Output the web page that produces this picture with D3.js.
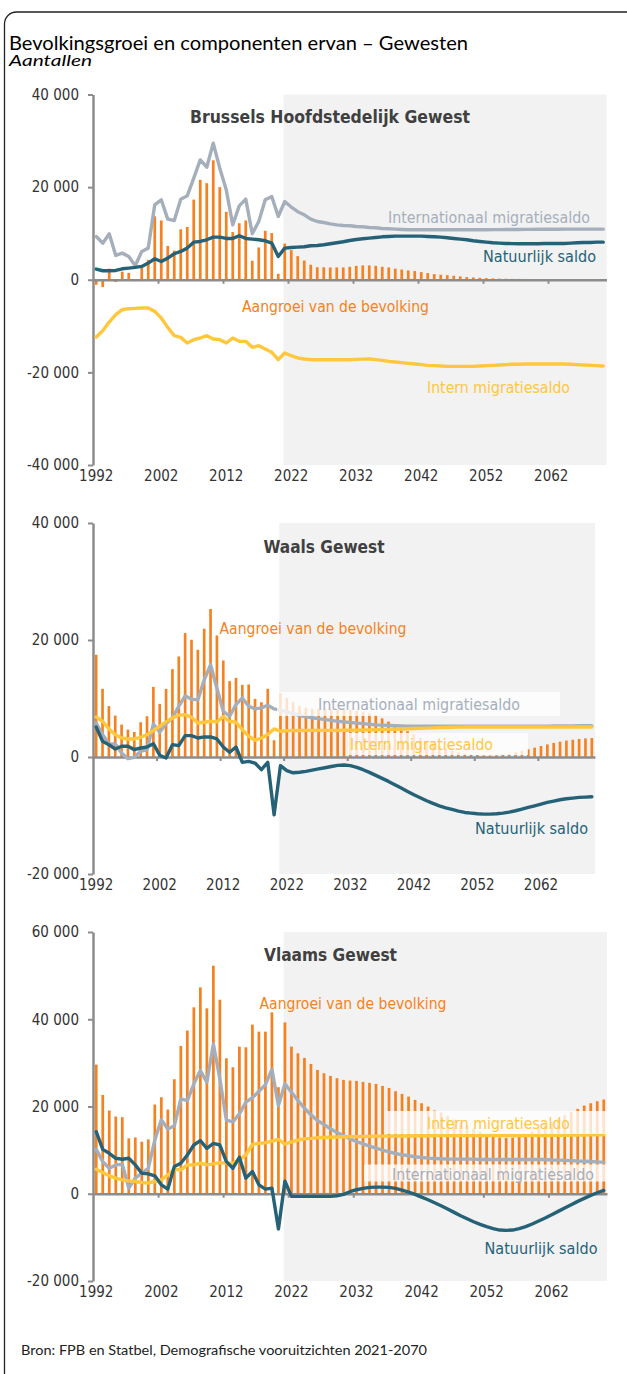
<!DOCTYPE html>
<html><head><meta charset="utf-8">
<script src="https://cdn.jsdelivr.net/npm/d3@7/dist/d3.min.js"></script>
<style>
html,body{margin:0;padding:0;background:#fff;}
svg{display:block;}
</style></head><body>
<svg id="chart" width="627" height="1374"></svg>
<script>
// ---------- DATA ----------
const years = d3.range(1992, 2071);
const xTickYears = [1992, 2002, 2012, 2022, 2032, 2042, 2052, 2062];
const bruYTicks = [-40000, -20000, 0, 20000, 40000];
const walYTicks = [-20000, 0, 20000, 40000];
const vlaYTicks = [-20000, 0, 20000, 40000, 60000];
const projectionStart = 2021;

const seriesNames = ["Aangroei van de bevolking", "Natuurlijk saldo", "Internationaal migratiesaldo", "Intern migratiesaldo"];
const panelTitles = ["Brussels Hoofdstedelijk Gewest", "Waals Gewest", "Vlaams Gewest"];

// Brussels
const bruGrowth = [-1080,-1580,2400,-500,1750,1500,-300,2600,4300,13700,
 12800,7300,6300,10900,11400,17300,21570,20850,25800,20000,
 14670,10300,12200,12800,4100,6970,10570,10070,1300,7800,
 6400,5100,4150,3240,2700,2700,2660,2660,2660,2800,
 3000,3090,3090,3020,2800,2660,2400,2200,2010,1870,
 1650,1440,1220,1080,1000,860,720,580,500,430,
 360,290,250,220,200,180,170,160,150,150,
 150,150,140,140,130,120,110,100,100];
const bruNatural = [2300,1940,1940,2010,2370,2520,2660,2880,3600,4530,
 3950,4670,5610,6110,6830,8120,8270,8630,9200,9200,
 8920,8920,9490,8920,8770,8630,8410,7910,5030,6830,
 6970,7050,7120,7330,7400,7550,7770,7980,8200,8480,
 8700,8840,8990,9130,9270,9350,9420,9420,9420,9420,
 9420,9350,9270,9200,9060,8920,8770,8630,8410,8270,
 8120,7980,7900,7840,7800,7770,7770,7770,7770,7840,
 7840,7840,7840,7910,7980,8050,8050,8120,8120];
const bruIntl = [9350,7900,9920,5250,5750,5030,3020,6110,6830,16180,
 17260,13090,12800,17400,18120,21930,25880,24300,29480,24090,
 19410,11860,15960,17400,9920,12580,17260,17980,13660,16900,
 15700,14700,14020,13090,12580,12370,12080,11860,11720,11650,
 11500,11430,11290,11220,11070,11000,10930,10860,10790,10790,
 10790,10790,10790,10790,10790,10790,10790,10790,10790,10800,
 10810,10820,10830,10840,10850,10860,10870,10880,10890,10900,
 10910,10920,10930,10930,10930,10930,10930,10930,10930];
const bruIntern = [-12370,-11000,-9130,-7550,-6470,-6250,-6180,-6110,-6110,-6830,
 -8270,-10280,-12080,-12440,-13660,-12940,-12580,-12080,-12800,-12940,
 -13660,-12580,-13300,-13300,-14600,-14240,-14950,-15670,-17260,-15820,
 -16400,-16900,-17100,-17260,-17260,-17260,-17260,-17260,-17260,-17260,
 -17200,-17150,-17100,-17260,-17400,-17620,-17760,-17900,-18050,-18190,
 -18330,-18480,-18550,-18620,-18700,-18700,-18700,-18700,-18700,-18620,
 -18550,-18480,-18400,-18330,-18260,-18260,-18190,-18190,-18190,-18190,
 -18190,-18190,-18190,-18260,-18330,-18400,-18480,-18550,-18620];

// Wallonia
const walGrowth = [17470,11650,8700,7080,5540,4680,4280,5940,6970,11990,
 9080,11650,15020,17190,21180,20040,18330,21930,25300,20780,
 16500,12960,13530,12330,12390,9940,9360,11650,2860,10960,
 10100,9360,8700,8400,8250,8200,8200,8200,8200,8150,
 8050,7900,7700,7450,7100,6600,6050,5500,4950,4400,
 3850,3300,2800,2300,1850,1450,1100,800,600,450,
 350,280,260,300,420,600,820,1060,1320,1600,
 1880,2150,2400,2620,2800,2950,3080,3180,3250];
const walNatural = [5140,2680,2110,1370,1830,1830,1260,1540,1710,2280,
 290,-170,2110,1940,3650,3650,3250,3430,3430,3080,
 1710,800,1710,-910,-740,-1030,-2170,-910,-9880,-1480,
 -2340,-2700,-2600,-2450,-2230,-2030,-1830,-1620,-1430,-1370,
 -1480,-1770,-2170,-2630,-3140,-3650,-4170,-4740,-5310,-5880,
 -6450,-6970,-7480,-7930,-8340,-8680,-8960,-9250,-9480,-9590,
 -9710,-9760,-9760,-9710,-9590,-9420,-9190,-8910,-8620,-8340,
 -8050,-7770,-7540,-7310,-7140,-7020,-6910,-6850,-6800];
const walIntl = [5820,3830,2280,2230,690,-290,-60,970,1260,5650,
 4230,5710,6680,8680,10450,9880,9760,13190,15760,11760,
 7820,6970,8960,10100,8680,8220,8390,8850,8220,8000,
 7700,7400,7100,6900,6700,6550,6400,6250,6100,6000,
 5900,5800,5700,5600,5500,5450,5400,5350,5300,5250,
 5250,5250,5250,5250,5250,5250,5250,5250,5250,5250,
 5250,5250,5250,5250,5250,5250,5250,5250,5250,5260,
 5270,5280,5290,5300,5310,5320,5330,5340,5350];
const walIntern = [6850,6110,4800,3830,3250,3080,3080,3370,3830,4510,
 5250,6050,6680,7140,7250,6800,5820,5940,6110,6000,
 6910,6110,5940,4680,3540,2860,3250,3830,4800,4400,
 4500,4520,4540,4550,4550,4550,4550,4550,4550,4560,
 4580,4600,4620,4640,4660,4690,4720,4750,4780,4820,
 4860,4900,4940,4980,5020,5050,5080,5100,5120,5140,
 5140,5140,5140,5140,5140,5140,5140,5140,5140,5140,
 5140,5140,5140,5140,5140,5140,5140,5140,5140];

// Flanders
const vlaGrowth = [29600,22660,19080,17700,17550,12700,12900,11930,12460,20450,
 22130,19300,26250,33880,37390,42730,47300,42500,52270,44480,
 31050,28990,33720,33570,38760,37160,37160,41580,24420,39290,
 33720,32200,31130,29760,28380,27620,27010,26480,26100,25940,
 25870,25640,25410,25180,24720,24260,23500,22890,22280,21520,
 20750,19990,19080,18610,17780,17020,16250,15570,14880,14190,
 13660,13200,12890,12820,12890,13200,13660,14270,14950,15630,
 16400,17200,18000,18800,19460,20220,20750,21210,21600];
const vlaNatural = [14210,10180,9270,8130,7900,8130,6610,4710,4560,4100,
 2050,1060,6230,6990,8890,11170,12160,10410,11550,11170,
 7370,5850,8360,3570,5090,2050,1060,1290,-8060,2900,
 -610,-610,-610,-610,-610,-610,-610,-460,-150,460,
 920,1220,1450,1530,1530,1450,1220,840,380,-150,
 -760,-1370,-2060,-2750,-3510,-4270,-5040,-5720,-6410,-7020,
 -7550,-8010,-8320,-8390,-8320,-8010,-7550,-6940,-6260,-5570,
 -4810,-4040,-3280,-2520,-1750,-1070,-380,230,760];
const vlaIntl = [10180,7370,5850,6610,6760,1290,3570,4710,5850,12310,
 16940,14820,15580,21750,21360,25200,28230,25560,34340,26320,
 16870,16490,18310,21000,22000,23500,25000,28500,20200,25200,
 23270,21360,19610,18080,16790,15870,14880,14040,13350,12590,
 11980,11450,10910,10450,9990,9610,9230,8930,8700,8470,
 8320,8160,8080,8010,7940,7940,7940,7940,7940,7860,
 7860,7860,7860,7860,7860,7860,7860,7860,7860,7860,
 7750,7700,7650,7600,7500,7450,7400,7300,7250];
const vlaIntern = [5620,4860,4100,3570,3190,2960,2810,2580,2430,2810,
 3190,4330,5620,5470,6610,6610,6990,6610,6840,7140,
 6990,6990,7750,8890,11320,11550,11700,12080,12460,11400,
 11900,12300,12600,12700,12850,12900,12950,13000,13050,13100,
 13100,13150,13150,13200,13200,13200,13250,13250,13250,13300,
 13300,13300,13350,13350,13350,13350,13350,13350,13350,13350,
 13350,13350,13350,13350,13350,13350,13350,13350,13350,13350,
 13400,13400,13400,13450,13450,13450,13500,13500,13500];

// ---------- STYLE ----------
const ORANGE = "#F58220", TEAL = "#256277", GREY = "#A5AFBC", YELLOW = "#FFC73C";
const AXIS = "#8C8C8C", SHADE = "#F2F2F2";
const CH_FONT = "'DejaVu Sans Condensed','DejaVu Sans',sans-serif";
const TI_FONT = "Lato,'Open Sans',sans-serif";

const fmt = d3.formatLocale({decimal: ",", thousands: " ", grouping: [3], currency: ["", ""], minus: "-"}).format(",d");

const panels = [
  {title: panelTitles[0], growth: bruGrowth, nat: bruNatural, intl: bruIntl, intern: bruIntern,
   yDomain: [-40000, 40000], yTicks: bruYTicks, top: 94.5, bottom: 465, left: 93, right: 606.5,
   titlePos: {x: 190, y: 122.5, w: 280},
   labels: [[2, GREY, 388, 223], [1, TEAL, 483, 262], [0, ORANGE, 242, 311.5], [3, YELLOW, 427, 392.5]],
   boxes: []},
  {title: panelTitles[1], growth: walGrowth, nat: walNatural, intl: walIntl, intern: walIntern,
   yDomain: [-20000, 40000], yTicks: walYTicks, top: 523, bottom: 874, left: 93, right: 595,
   titlePos: {x: 263.5, y: 552.7, w: 121},
   labels: [[0, ORANGE, 219.5, 634], [2, GREY, 318, 710], [3, YELLOW, 350, 749.5], [1, TEAL, 475, 834]],
   boxes: [[277, 692, 283, 24], [348, 733, 180, 22]]},
  {title: panelTitles[2], growth: vlaGrowth, nat: vlaNatural, intl: vlaIntl, intern: vlaIntern,
   yDomain: [-20000, 60000], yTicks: vlaYTicks, top: 932, bottom: 1281, left: 93, right: 607,
   titlePos: {x: 264, y: 960.7, w: 133},
   labels: [[0, ORANGE, 259.5, 1008.5], [3, YELLOW, 427, 1128.5], [2, GREY, 392, 1179.5], [1, TEAL, 484.5, 1254]],
   boxes: [[387, 1111, 220, 23], [364, 1164.5, 243, 17]]}
];
const labelWidths = [187, 113, 202, 143];

// ---------- DRAW ----------
const svg = d3.select("#chart");
svg.append("rect").attr("width", 627).attr("height", 1374).attr("fill", "#fff");
svg.append("rect").attr("x", 4.5).attr("y", 12).attr("width", 700).attr("height", 1420)
  .attr("rx", 12).attr("fill", "none").attr("stroke", "#222").attr("stroke-width", 1.3);

svg.append("text").attr("x", 9).attr("y", 49.5).text("Bevolkingsgroei en componenten ervan – Gewesten")
  .attr("font-family", TI_FONT).attr("font-size", 20).attr("fill", "#000")
  .attr("textLength", 459).attr("lengthAdjust", "spacingAndGlyphs");
svg.append("text").attr("x", 9).attr("y", 66).text("Aantallen")
  .attr("font-family", TI_FONT).attr("font-size", 15).attr("font-style", "italic").attr("fill", "#000")
  .attr("textLength", 83).attr("lengthAdjust", "spacingAndGlyphs");
svg.append("text").attr("x", 21).attr("y", 1355).text("Bron: FPB en Statbel, Demografische vooruitzichten 2021-2070")
  .attr("font-family", TI_FONT).attr("font-size", 13.5).attr("fill", "#222")
  .attr("textLength", 406).attr("lengthAdjust", "spacingAndGlyphs");

panels.forEach(p => {
  const g = svg.append("g");
  const x = d3.scaleBand().domain(years).range([p.left, p.right]).padding(0);
  const xb = d3.scaleLinear().domain([years[0], years[years.length - 1] + 1]).range([p.left, p.right]);
  const y = d3.scaleLinear().domain(p.yDomain).range([p.bottom, p.top]);
  const bw = x.bandwidth();

  // projection shading
  const sx = x(projectionStart) + 2;
  g.append("rect").attr("x", sx).attr("y", p.top).attr("width", p.right - sx)
    .attr("height", p.bottom - p.top).attr("fill", SHADE);

  // bars
  g.append("g").selectAll("rect").data(years.map((yr, i) => ({yr, v: p.growth[i]}))).join("rect")
    .attr("x", d => x(d.yr) + bw * 0.29).attr("width", bw * 0.42)
    .attr("y", d => y(Math.max(0, d.v))).attr("height", d => Math.abs(y(d.v) - y(0)))
    .attr("fill", ORANGE);

  // y axis
  const ya = g.append("g").attr("transform", `translate(${p.left},0)`)
    .call(d3.axisLeft(y).tickValues(p.yTicks).tickSize(5).tickSizeOuter(0).tickPadding(9).tickFormat(fmt));
  ya.attr("font-family", CH_FONT).attr("font-size", 15);
  ya.select(".domain").attr("stroke", AXIS).attr("stroke-width", 2.5);
  ya.selectAll(".tick line").attr("stroke", AXIS).attr("stroke-width", 2);
  ya.selectAll(".tick text").attr("fill", "#333");

  // zero line with ticks at decade boundaries
  const za = g.append("g").attr("transform", `translate(0,${y(0)})`)
    .call(d3.axisBottom(xb).tickValues(xTickYears.slice(1)).tickSize(4).tickSizeOuter(0).tickFormat(""));
  za.select(".domain").attr("stroke", AXIS).attr("stroke-width", 2.7);
  za.selectAll(".tick line").attr("stroke", AXIS).attr("stroke-width", 2);

  // x labels at bottom
  const xl = g.append("g").attr("transform", `translate(0,${p.bottom})`)
    .call(d3.axisBottom(x).tickValues(xTickYears).tickSize(0).tickPadding(5));
  xl.select(".domain").remove();
  xl.attr("font-family", CH_FONT).attr("font-size", 15);
  xl.selectAll(".tick text").attr("fill", "#333");

  // lines
  const line = d3.line().x((d, i) => x(years[i]) + bw / 2).y(d => y(d));
  [[p.intl, GREY], [p.intern, YELLOW], [p.nat, TEAL]].forEach(([data, col]) => {
    g.append("path").datum(data).attr("d", line).attr("fill", "none")
      .attr("stroke", col).attr("stroke-width", 3.4).attr("stroke-linejoin", "round").attr("stroke-linecap", "round");
  });

  // label boxes
  p.boxes.forEach(b => {
    g.append("rect").attr("x", b[0]).attr("y", b[1]).attr("width", b[2]).attr("height", b[3])
      .attr("fill", "#fff").attr("fill-opacity", 0.78);
  });

  // panel title
  g.append("text").attr("x", p.titlePos.x).attr("y", p.titlePos.y).text(p.title)
    .attr("font-family", CH_FONT).attr("font-weight", "bold").attr("font-size", 17).attr("fill", "#404040")
    .attr("textLength", p.titlePos.w).attr("lengthAdjust", "spacingAndGlyphs");

  // series labels
  p.labels.forEach(([si, col, lx, ly]) => {
    g.append("text").attr("x", lx).attr("y", ly).text(seriesNames[si])
      .attr("font-family", CH_FONT).attr("font-size", 15).attr("fill", col)
      .attr("textLength", labelWidths[si]).attr("lengthAdjust", "spacingAndGlyphs");
  });
});
</script>
</body></html>
